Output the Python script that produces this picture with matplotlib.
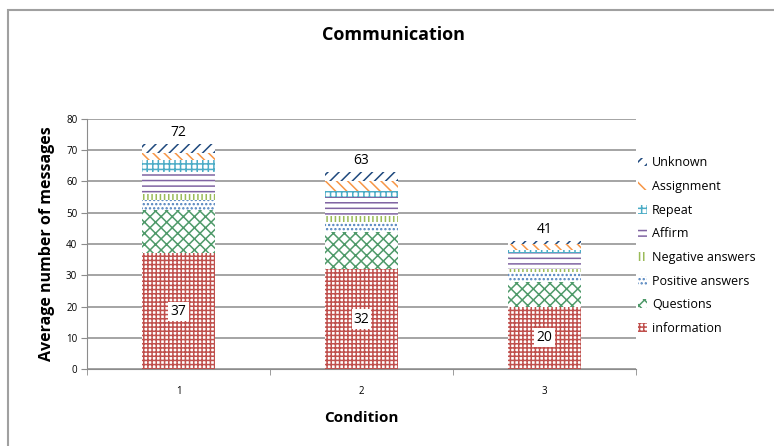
import matplotlib.pyplot as plt
import matplotlib.patches as mpatches
import numpy as np

conditions = ['1', '2', '3']
categories = ['information', 'Questions', 'Positive answers', 'Negative answers',
              'Affirm', 'Repeat', 'Assignment', 'Unknown']
information = [37, 32, 20]
questions = [14, 12, 8]
positive = [3, 3, 3]
negative = [2, 2, 1]
affirm = [7, 6, 5]
repeat = [4, 2, 1]
assignment = [2, 3, 2]
unknown = [3, 3, 1]
totals = [72, 63, 41]

series = [information, questions, positive, negative, affirm, repeat, assignment, unknown]
colors = ['#c0504d', '#4f9a6a', '#4f81bd', '#9bbb59', '#8064a2', '#4bacc6', '#f79646', '#1f497d']
hatches = ['++++', 'xxx', '....', '||||', '---', '+++', '\\\\\\', '///']

plt.rcParams['font.family'] = ['Open Sans', 'DejaVu Sans']
plt.rcParams['hatch.linewidth'] = 1.1

fig = plt.figure(figsize=(7.74, 4.46), dpi=100)
ax = fig.add_axes([0.1124, 0.1726, 0.7093, 0.5606])

# outer chart border
fig.patches.append(mpatches.Rectangle((8 / 774, -0.1), 1.2, 1 - 10 / 446 + 0.1,
                                      transform=fig.transFigure, fill=False,
                                      edgecolor='#a0a0a0', linewidth=1.5))

x = np.arange(len(conditions)) + 1
bottom = np.zeros(len(conditions))
handles = []
for vals, col, h, name in zip(series, colors, hatches, categories):
    bars = ax.bar(x, vals, 0.4, bottom=bottom, facecolor='white', edgecolor=col,
                  hatch=h, linewidth=0, label=name, zorder=2)
    handles.append(bars)
    bottom += np.array(vals)

# labels inside information segments
for xi, v in zip(x, information):
    ax.text(xi, v / 2, str(v), ha='center', va='center', fontsize=10,
            bbox=dict(facecolor='white', edgecolor='none', pad=1.5), zorder=3)

# totals above bars
for xi, t in zip(x, totals):
    ax.text(xi, t + 1.2, str(t), ha='center', va='bottom', fontsize=10)

ax.set_xlim(0.5, 3.5)
ax.set_ylim(0, 80)
ax.set_yticks(range(0, 81, 10))
ax.set_xticks(x)
ax.set_xticklabels(conditions, fontsize=7)
ax.set_xticks([0.5, 1.5, 2.5, 3.5], minor=True)
ax.tick_params(axis='x', which='major', length=0, pad=12)
ax.tick_params(axis='x', which='minor', length=4, color='#8c8c8c')
ax.tick_params(axis='y', labelsize=7, length=4, color='#8c8c8c', pad=3)
ax.yaxis.grid(True, color='#8c8c8c', linewidth=1.1)
ax.set_axisbelow(True)
for s in ['top', 'right']:
    ax.spines[s].set_visible(False)
for s in ['left', 'bottom']:
    ax.spines[s].set_color('#8c8c8c')

ax.set_ylabel('Average number of messages', fontsize=11.5, fontweight='bold', labelpad=8)
ax.set_xlabel('Condition', fontsize=11, fontweight='bold', labelpad=10)
fig.text(0.508, 0.922, 'Communication', ha='center', va='center', fontsize=13, fontweight='bold')

leg = ax.legend(handles[::-1], categories[::-1], loc='upper left',
                bbox_to_anchor=(0.99, 0.88), frameon=False, fontsize=9,
                handlelength=0.7, handleheight=0.7, handletextpad=0.4,
                labelspacing=0.85, borderaxespad=0.2)

fig.savefig('out.png', dpi=100)
